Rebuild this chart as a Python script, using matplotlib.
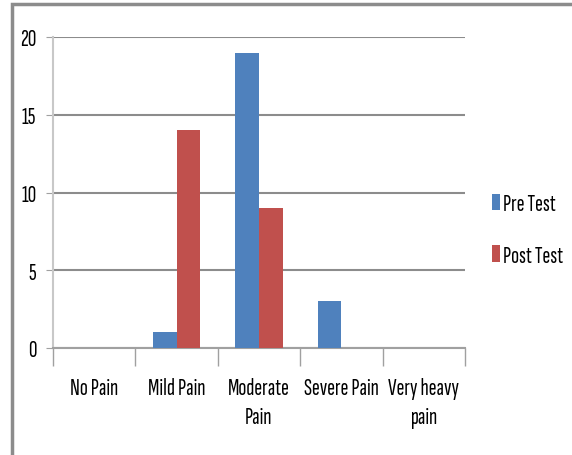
import matplotlib.pyplot as plt
import numpy as np
from matplotlib.patches import Rectangle

plt.rcParams['font.family'] = ['Sofia Sans Extra Condensed', 'DejaVu Sans']

categories = ['No Pain', 'Mild Pain', 'Moderate\nPain', 'Severe Pain', 'Very heavy\npain']
pre_test = [0, 1, 19, 3, 0]
post_test = [0, 14, 9, 0, 0]

blue = '#4f81bd'
red = '#c0504d'

fig = plt.figure(figsize=(5.72, 4.56), dpi=100)
# grey frame around the chart area (runs off the right and bottom edges)
fig.patches.append(Rectangle((12 / 572, -0.02), 1.0, (451 / 456) + 0.02,
                             transform=fig.transFigure, fill=False,
                             edgecolor='#8c8c8c', linewidth=2.5))

ax = fig.add_axes([53 / 572, (456 - 349) / 456, (465 - 53) / 572, (349 - 38) / 456])

x = np.arange(len(categories))
w = 1 / 3.5
ax.bar(x - w / 2, pre_test, width=w, color=blue, label='Pre Test', zorder=3)
ax.bar(x + w / 2, post_test, width=w, color=red, label='Post Test', zorder=3)

ax.set_xlim(-0.5, len(categories) - 0.5)
ax.set_ylim(0, 20)
ax.set_yticks([0, 5, 10, 15, 20])
ax.yaxis.grid(True, color='#8c8c8c', linewidth=1.5, zorder=0)
ax.set_axisbelow(True)

# category boundaries get the tick marks, labels sit between them
ax.set_xticks(np.arange(-0.5, len(categories)))
ax.set_xticklabels([])
ax.set_xticks(x, minor=True)
ax.set_xticklabels(categories, minor=True, fontsize=17, linespacing=1.4, va='top')
ax.tick_params(axis='x', which='major', length=13, color='#a0a0a0', width=1)
ax.tick_params(axis='x', which='minor', length=0, pad=21)
ax.tick_params(axis='y', length=5, color='#a0a0a0', labelsize=17, pad=7)

for s in ['top', 'right']:
    ax.spines[s].set_visible(False)
ax.spines['left'].set_color('#c8c8c8')
ax.spines['left'].set_linewidth(1.5)
ax.spines['bottom'].set_color('#a0a0a0')
ax.spines['bottom'].set_linewidth(1.5)

fig.legend(loc='center left', bbox_to_anchor=(483 / 572, (456 - 231) / 456),
           frameon=False, fontsize=17, handlelength=0.3, handleheight=0.68,
           handletextpad=0.15, labelspacing=1.25, borderaxespad=0)

fig.savefig('out.png', dpi=100)
